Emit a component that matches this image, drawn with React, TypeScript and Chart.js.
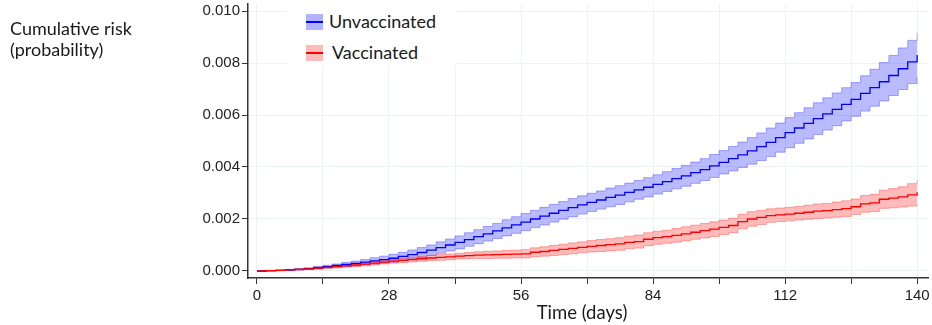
import React, { useEffect, useRef } from "react";
import { Chart, registerables } from "chart.js";

Chart.register(...registerables);

const days = [
  0, 2, 4, 6, 8, 10, 12, 14, 16, 18, 20, 22, 24, 26, 28, 30, 32, 34, 36, 38, 40, 42, 44, 46, 48, 50,
  52, 54, 56, 58, 60, 62, 64, 66, 68, 70, 72, 74, 76, 78, 80, 82, 84, 86, 88, 90, 92, 94, 96, 98, 100,
  102, 104, 106, 108, 110, 112, 114, 116, 118, 120, 122, 124, 126, 128, 130, 132, 134, 136, 138, 140,
];

const unvaxRisk = [
  0, 0.00001, 0.00002, 0.00004, 0.00006, 0.00009, 0.00013, 0.00017, 0.00021, 0.00025, 0.00029,
  0.00034, 0.00039, 0.00044, 0.00049, 0.00056, 0.00063, 0.00071, 0.0008, 0.0009, 0.001, 0.0011,
  0.00121, 0.00132, 0.00143, 0.00154, 0.00166, 0.00177, 0.00188, 0.002, 0.00211, 0.00222, 0.00233,
  0.00244, 0.00254, 0.00264, 0.00273, 0.00283, 0.00292, 0.00302, 0.00312, 0.00322, 0.00333, 0.00344,
  0.00355, 0.00366, 0.00378, 0.0039, 0.00404, 0.00418, 0.00432, 0.00447, 0.00462, 0.00478, 0.00495,
  0.00513, 0.00532, 0.0055, 0.00568, 0.00586, 0.00604, 0.00622, 0.00641, 0.0066, 0.00683, 0.00705,
  0.00728, 0.00752, 0.00778, 0.00804, 0.00831,
];
const unvaxLower = [
  0, 0.0, 0.00001, 0.00002, 0.00004, 0.00006, 0.00009, 0.00012, 0.00015, 0.00017, 0.0002, 0.00024,
  0.00027, 0.00031, 0.00034, 0.0004, 0.00045, 0.00052, 0.0006, 0.00068, 0.00077, 0.00085, 0.00095,
  0.00105, 0.00115, 0.00125, 0.00135, 0.00145, 0.00155, 0.00167, 0.00177, 0.00188, 0.00199, 0.00209,
  0.00219, 0.00229, 0.00238, 0.00247, 0.00256, 0.00266, 0.00276, 0.00285, 0.00296, 0.00306, 0.00316,
  0.00326, 0.00337, 0.00348, 0.0036, 0.00373, 0.00385, 0.00398, 0.00411, 0.00425, 0.0044, 0.00457,
  0.00474, 0.00491, 0.00508, 0.00525, 0.00542, 0.00559, 0.00577, 0.00595, 0.00615, 0.00634, 0.00654,
  0.00675, 0.00698, 0.00721, 0.00746,
];
const unvaxUpper = [
  0, 0.00002, 0.00003, 0.00006, 0.00008, 0.00012, 0.00017, 0.00022, 0.00027, 0.00033, 0.00038,
  0.00044, 0.00051, 0.00057, 0.00064, 0.00072, 0.00081, 0.0009, 0.001, 0.00112, 0.00123, 0.00135,
  0.00147, 0.00159, 0.00171, 0.00183, 0.00197, 0.00209, 0.00221, 0.00233, 0.00245, 0.00256, 0.00267,
  0.00279, 0.00289, 0.00299, 0.00308, 0.00319, 0.00328, 0.00338, 0.00348, 0.00359, 0.0037, 0.00382,
  0.00394, 0.00406, 0.00419, 0.00432, 0.00448, 0.00463, 0.00479, 0.00496, 0.00513, 0.00531, 0.0055,
  0.00569, 0.0059, 0.00609, 0.00628, 0.00647, 0.00666, 0.00685, 0.00705, 0.00725, 0.00751, 0.00776,
  0.00802, 0.00829, 0.00858, 0.00887, 0.00916,
];

const vaxRisk = [
  0, 0.00001, 0.00002, 0.00004, 0.00006, 0.00008, 0.00011, 0.00014, 0.00017, 0.0002, 0.00023,
  0.00026, 0.0003, 0.00034, 0.00038, 0.00041, 0.00044, 0.00047, 0.0005, 0.00052, 0.00054, 0.00057,
  0.00059, 0.00061, 0.00062, 0.00063, 0.00064, 0.00065, 0.00066, 0.00072, 0.00075, 0.00079, 0.00083,
  0.00087, 0.00091, 0.00095, 0.00098, 0.00101, 0.00104, 0.0011, 0.00113, 0.00122, 0.00128, 0.00132,
  0.00137, 0.00143, 0.00149, 0.00155, 0.00161, 0.00168, 0.00175, 0.0019, 0.002, 0.00206, 0.00213,
  0.00216, 0.00219, 0.00222, 0.00226, 0.0023, 0.00232, 0.00236, 0.0024, 0.00247, 0.00258, 0.00262,
  0.00276, 0.0028, 0.00285, 0.00293, 0.00303,
];
const vaxLower = [
  0, 0.0, 0.00001, 0.00002, 0.00003, 0.00005, 0.00007, 0.0001, 0.00012, 0.00015, 0.00017, 0.0002,
  0.00023, 0.00027, 0.0003, 0.00032, 0.00035, 0.00037, 0.0004, 0.00041, 0.00043, 0.00046, 0.00047,
  0.00048, 0.00048, 0.00049, 0.00049, 0.0005, 0.0005, 0.00055, 0.00057, 0.0006, 0.00063, 0.00066,
  0.0007, 0.00073, 0.00075, 0.00078, 0.0008, 0.00086, 0.00088, 0.00097, 0.00103, 0.00107, 0.00111,
  0.00116, 0.00122, 0.00127, 0.00133, 0.0014, 0.00147, 0.00162, 0.00172, 0.00179, 0.00187, 0.0019,
  0.00193, 0.00196, 0.00199, 0.00202, 0.00204, 0.00207, 0.0021, 0.00217, 0.00226, 0.00229, 0.00241,
  0.00243, 0.00246, 0.0025, 0.00254,
];
const vaxUpper = [
  0, 0.00002, 0.00003, 0.00006, 0.00009, 0.00011, 0.00015, 0.00018, 0.00022, 0.00025, 0.00029,
  0.00032, 0.00037, 0.00041, 0.00046, 0.0005, 0.00053, 0.00057, 0.0006, 0.00063, 0.00065, 0.00068,
  0.00071, 0.00074, 0.00076, 0.00077, 0.00079, 0.0008, 0.00082, 0.00089, 0.00093, 0.00098, 0.00103,
  0.00108, 0.00112, 0.00117, 0.00121, 0.00124, 0.00128, 0.00134, 0.00138, 0.00147, 0.00153, 0.00157,
  0.00163, 0.0017, 0.00176, 0.00183, 0.00189, 0.00196, 0.00203, 0.00218, 0.00228, 0.00233, 0.00239,
  0.00242, 0.00245, 0.00248, 0.00253, 0.00258, 0.0026, 0.00265, 0.0027, 0.00277, 0.0029, 0.00295,
  0.00311, 0.00317, 0.00324, 0.00336, 0.0035,
];

const xTicks = [0, 14, 28, 42, 56, 70, 84, 98, 112, 126, 140];
const xLabelTicks = [0, 28, 56, 84, 112, 140];
const yTicks = [0, 0.002, 0.004, 0.006, 0.008, 0.01];
const seriesNames = ["Unvaccinated", "Vaccinated"];

const BLUE = "#0000ff";
const RED = "#ff0000";
const BLUE_BAND = "rgba(0,0,255,0.27)";
const RED_BAND = "rgba(255,0,0,0.27)";
const BLUE_EDGE = "rgba(60,60,255,0.42)";
const RED_EDGE = "rgba(255,60,60,0.42)";

const textFont = "Lato, 'Open Sans', sans-serif";

export default function App() {
  const ref = useRef<HTMLCanvasElement | null>(null);

  useEffect(() => {
    document.body.style.margin = "0";
    const pts = (ys: number[]) => days.map((d, i) => ({ x: d, y: ys[i] }));
    const band = (ys: number[], edge: string, bg: string, fill: any, order: number) => ({
      data: pts(ys),
      borderColor: edge,
      backgroundColor: bg,
      borderWidth: 1,
      pointRadius: 0,
      stepped: "before" as const,
      fill,
      order,
    });
    const chart = new Chart(ref.current as HTMLCanvasElement, {
      type: "line",
      data: {
        datasets: [
          band(unvaxLower, BLUE_EDGE, BLUE_BAND, false, 10),
          band(unvaxUpper, BLUE_EDGE, BLUE_BAND, "-1", 10),
          band(vaxLower, RED_EDGE, RED_BAND, false, 9),
          band(vaxUpper, RED_EDGE, RED_BAND, "-1", 9),
          {
            label: seriesNames[0],
            data: pts(unvaxRisk),
            borderColor: BLUE,
            borderWidth: 1.3,
            pointRadius: 0,
            stepped: "before",
            fill: false,
            order: 2,
          },
          {
            label: seriesNames[1],
            data: pts(vaxRisk),
            borderColor: RED,
            borderWidth: 1.3,
            pointRadius: 0,
            stepped: "before",
            fill: false,
            order: 1,
          },
        ],
      },
      options: {
        animation: false,
        responsive: false,
        maintainAspectRatio: false,
        layout: { padding: { top: 4, right: 4, left: 0, bottom: 0 } },
        plugins: { legend: { display: false }, tooltip: { enabled: false } },
        scales: {
          x: {
            type: "linear",
            min: -1.9,
            max: 142.3,
            afterBuildTicks: (s: any) => {
              s.ticks = xTicks.map((v) => ({ value: v }));
            },
            afterFit: (s: any) => {
              s.height = 47;
              s.paddingLeft = 0;
              s.paddingRight = 0;
            },
            ticks: {
              autoSkip: false,
              maxRotation: 0,
              padding: 3,
              color: "#222",
              font: { family: "'Liberation Sans', Arial, sans-serif", size: 15 },
              callback: (v: any) => (xLabelTicks.includes(Number(v)) ? String(v) : ""),
            },
            grid: { color: "#edf2f5", lineWidth: 1, tickColor: "#333", tickLength: 6 },
            border: { color: "#333", width: 1.5 },
          },
          y: {
            type: "linear",
            min: -0.00027,
            max: 0.01027,
            afterBuildTicks: (s: any) => {
              s.ticks = yTicks.map((v) => ({ value: v }));
            },
            afterFit: (s: any) => {
              s.width = 248;
              s.paddingTop = 0;
              s.paddingBottom = 0;
            },
            ticks: {
              padding: 2,
              color: "#222",
              font: { family: "'Liberation Sans', Arial, sans-serif", size: 15 },
              callback: (v: any) => Number(v).toFixed(3),
            },
            grid: { color: "#edf2f5", lineWidth: 1, tickColor: "#333", tickLength: 6 },
            border: { color: "#333", width: 1.5 },
          },
        },
      },
    });
    return () => chart.destroy();
  }, []);

  const swatch = (fill: string, line: string, top: number) => (
    <div
      style={{
        position: "absolute",
        left: 306,
        top,
        width: 17,
        height: 16,
        background: fill,
      }}
    >
      <div style={{ position: "absolute", left: 0, top: 7, width: 17, height: 2, background: line }} />
    </div>
  );

  const labelStyle = (left: number, top: number): React.CSSProperties => ({
    position: "absolute",
    left,
    top,
    fontFamily: textFont,
    fontSize: 18,
    lineHeight: "20px",
    color: "#1a1a1a",
    whiteSpace: "nowrap",
  });

  return (
    <div style={{ position: "relative", width: 932, height: 325, background: "#fff" }}>
      <canvas ref={ref} width={932} height={325} style={{ position: "absolute", left: 0, top: 0 }} />
      <div
        style={{
          position: "absolute",
          left: 10,
          top: 18,
          fontFamily: textFont,
          fontSize: 18,
          lineHeight: "21px",
          color: "#1a1a1a",
          whiteSpace: "nowrap",
        }}
      >
        Cumulative risk
        <br />
        (probability)
      </div>
      <div
        style={{
          position: "absolute",
          left: 482,
          width: 200,
          top: 301,
          textAlign: "center",
          fontFamily: textFont,
          fontSize: 18.5,
          lineHeight: "22px",
          color: "#1a1a1a",
        }}
      >
        Time (days)
      </div>
      <div style={{ position: "absolute", left: 287, top: 0, width: 169, height: 66, background: "#fff" }}></div>
      {swatch("rgba(0,0,255,0.3)", BLUE, 14)}
      {swatch("rgba(255,0,0,0.27)", RED, 45)}
      <div style={labelStyle(329, 11)}>{seriesNames[0]}</div>
      <div style={labelStyle(332, 42)}>{seriesNames[1]}</div>
    </div>
  );
}
